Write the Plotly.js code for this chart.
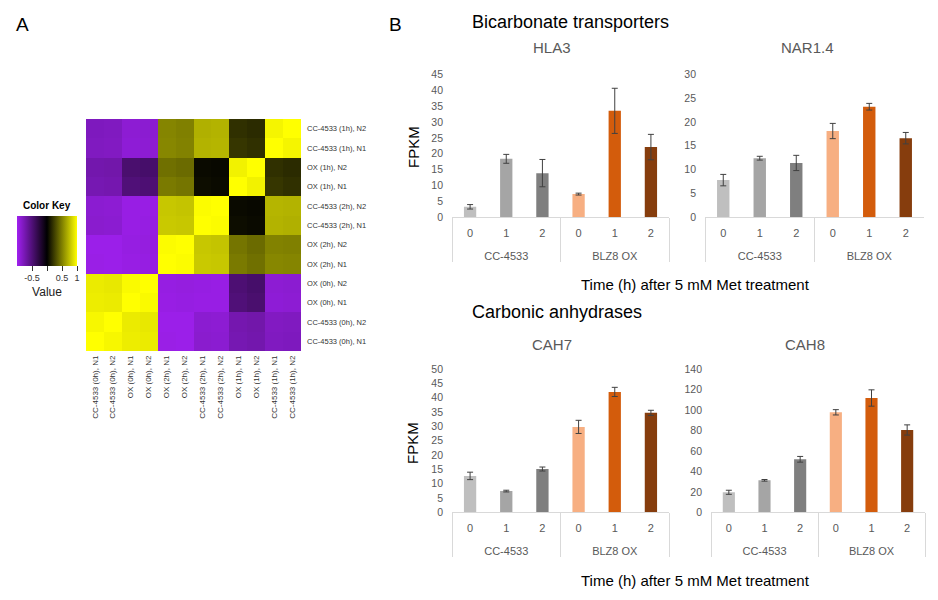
<!DOCTYPE html>
<html>
<head>
<meta charset="utf-8">
<script src="https://cdn.plot.ly/plotly-3.0.1.min.js"></script>
<style>html,body{margin:0;padding:0;background:#fff;}#chart{width:938px;height:600px;}</style>
</head>
<body>
<div id="chart"></div>
<script>
// ---------- Data ----------
const sampleLabels = ['CC-4533 (0h), N1','CC-4533 (0h), N2','OX (0h), N1','OX (0h), N2','OX (2h), N1','OX (2h), N2','CC-4533 (2h), N1','CC-4533 (2h), N2','OX (1h), N1','OX (1h), N2','CC-4533 (1h), N1','CC-4533 (1h), N2'];
const corrRow0  = [ 1.00, 0.97, 0.93, 0.92,-0.96,-0.97,-0.86,-0.87,-0.74,-0.72,-0.80,-0.79];
const corrRow1  = [ 0.97, 1.00, 0.92, 0.91,-0.97,-0.97,-0.87,-0.88,-0.73,-0.71,-0.81,-0.80];
const corrRow2  = [ 0.93, 0.92, 1.00, 0.98,-0.95,-0.94,-0.95,-0.95,-0.50,-0.46,-0.89,-0.88];
const corrRow3  = [ 0.92, 0.91, 0.98, 1.00,-0.94,-0.93,-0.94,-0.95,-0.48,-0.44,-0.88,-0.87];
const corrRow4  = [-0.96,-0.97,-0.95,-0.94, 1.00, 0.99, 0.79, 0.78, 0.48, 0.44, 0.53, 0.52];
const corrRow5  = [-0.97,-0.97,-0.94,-0.93, 0.99, 1.00, 0.78, 0.77, 0.46, 0.42, 0.51, 0.50];
const corrRow6  = [-0.86,-0.87,-0.95,-0.94, 0.79, 0.78, 1.00, 0.99, 0.05, 0.04, 0.70, 0.69];
const corrRow7  = [-0.87,-0.88,-0.95,-0.95, 0.78, 0.77, 0.99, 1.00, 0.04, 0.03, 0.71, 0.70];
const corrRow8  = [-0.74,-0.73,-0.50,-0.48, 0.48, 0.46, 0.05, 0.04, 1.00, 0.95, 0.21, 0.19];
const corrRow9  = [-0.72,-0.71,-0.46,-0.44, 0.44, 0.42, 0.04, 0.03, 0.95, 1.00, 0.19, 0.17];
const corrRow10 = [-0.80,-0.81,-0.89,-0.88, 0.53, 0.51, 0.70, 0.71, 0.21, 0.19, 1.00, 0.96];
const corrRow11 = [-0.79,-0.80,-0.88,-0.87, 0.52, 0.50, 0.69, 0.70, 0.19, 0.17, 0.96, 1.00];
const keyTickVals = [-0.5, 0, 0.5, 1];
const keyTickText = ['-0.5', '', '0.5', '1'];

const groups = ['CC-4533','CC-4533','CC-4533','BLZ8 OX','BLZ8 OX','BLZ8 OX'];
const times  = ['0','1','2','0','1','2'];
const hla3     = [3.3, 18.4, 13.9, 7.3, 33.5, 22.1];
const hla3Err  = [0.7, 1.4, 4.3, 0.3, 7.1, 4.0];
const nar14    = [7.8, 12.4, 11.4, 18.1, 23.2, 16.6];
const nar14Err = [1.2, 0.4, 1.6, 1.6, 0.7, 1.2];
const cah7     = [12.7, 7.4, 15.1, 29.8, 42.0, 34.7];
const cah7Err  = [1.3, 0.3, 0.7, 2.3, 1.6, 0.9];
const cah8     = [19.6, 31.3, 51.9, 97.9, 111.9, 80.6];
const cah8Err  = [2.0, 0.8, 2.8, 2.6, 8.0, 5.0];
const barColors = ['#BFBFBF','#A5A5A5','#7F7F7F','#F7AF82','#D35C0C','#863D0D'];

// ---------- Helpers ----------
const W = 938, H = 600;
const px = x => x / W;
const py = y => 1 - y / H;
const GRAY = '#595959';
const FONT = 'Liberation Sans, Arial, sans-serif';

const corr = [corrRow0,corrRow1,corrRow2,corrRow3,corrRow4,corrRow5,corrRow6,corrRow7,corrRow8,corrRow9,corrRow10,corrRow11];
// group labels drawn one line lower (spacing like the Excel two-level axis)
const groupAxisLabels = groups.map(g => '<br>' + g);

const traces = [];
traces.push({
  type: 'heatmap', x: sampleLabels, y: sampleLabels, z: corr,
  xaxis: 'x', yaxis: 'y', zmin: -1, zmax: 1,
  colorscale: [[0,'#A020F0'],[0.5,'#000000'],[1,'#FFFF00']],
  showscale: true, hoverinfo: 'skip',
  colorbar: {
    orientation: 'h', x: px(17), xanchor: 'left', y: py(216), yanchor: 'top',
    len: 60, lenmode: 'pixels', thickness: 50, thicknessmode: 'pixels',
    xpad: 0, ypad: 0, outlinewidth: 0,
    tickvals: keyTickVals, ticktext: keyTickText,
    ticks: 'outside', ticklen: 5, tickcolor: '#333', tickwidth: 1,
    tickfont: {family: FONT, size: 9, color: '#333'},
    title: {text: 'Value', side: 'bottom', font: {family: FONT, size: 12, color: '#222'}}
  }
});

function barTrace(vals, errs, ax) {
  return {
    type: 'bar', x: [groupAxisLabels, times], y: vals,
    xaxis: 'x' + ax, yaxis: 'y' + ax,
    marker: {color: barColors, line: {width: 0}},
    error_y: {type: 'data', array: errs, visible: true, color: '#404040', thickness: 1, width: 3},
    hoverinfo: 'skip', showlegend: false
  };
}
traces.push(barTrace(hla3, hla3Err, 2));
traces.push(barTrace(nar14, nar14Err, 3));
traces.push(barTrace(cah7, cah7Err, 4));
traces.push(barTrace(cah8, cah8Err, 5));

function xCat(d0, d1, anchor) {
  return {
    domain: [px(d0), px(d1)], anchor: anchor, type: 'multicategory',
    showline: true, linecolor: '#D9D9D9', linewidth: 1,
    showdividers: true, dividercolor: '#D9D9D9', dividerwidth: 1,
    ticks: '', showgrid: false, zeroline: false, fixedrange: true,
    ticklabelstandoff: 5,
    tickfont: {family: FONT, size: 11, color: GRAY}
  };
}
function yVal(top, bottom, range, dtick, anchor) {
  return {
    domain: [py(bottom), py(top)], anchor: anchor, range: range, dtick: dtick,
    showline: false, showgrid: false, zeroline: false, ticks: '',
    ticklabelstandoff: 8, fixedrange: true,
    tickfont: {family: FONT, size: 10.5, color: GRAY}
  };
}
function label(text, x, y, size, color, extra) {
  return Object.assign({
    text: text, x: px(x), y: py(y), xref: 'paper', yref: 'paper',
    xanchor: 'center', yanchor: 'middle', showarrow: false,
    font: {family: FONT, size: size, color: color}
  }, extra || {});
}

const layout = {
  width: W, height: H, margin: {l: 0, r: 0, t: 0, b: 0},
  paper_bgcolor: '#fff', plot_bgcolor: 'rgba(0,0,0,0)',
  showlegend: false, bargap: 0.66,
  font: {family: FONT},
  xaxis: {
    domain: [px(86), px(301)], anchor: 'y', type: 'category',
    tickangle: -90, ticks: '', showgrid: false, zeroline: false, showline: false,
    ticklabelstandoff: 2,
    tickfont: {family: FONT, size: 8, color: '#333'}, automargin: false
  },
  yaxis: {
    domain: [py(351), py(119)], anchor: 'x', type: 'category', side: 'right',
    ticks: '', showgrid: false, zeroline: false, showline: false,
    ticklabelstandoff: 5,
    tickfont: {family: FONT, size: 7.5, color: '#333'}, automargin: false
  },
  xaxis2: xCat(452, 669, 'y2'),
  yaxis2: yVal(74.3, 217.3, [0, 45], 5, 'x2'),
  xaxis3: xCat(705, 924, 'y3'),
  yaxis3: yVal(74.3, 217.3, [0, 30], 5, 'x3'),
  xaxis4: xCat(452, 669, 'y4'),
  yaxis4: yVal(369, 512.3, [0, 50], 5, 'x4'),
  xaxis5: xCat(711, 925, 'y5'),
  yaxis5: yVal(369.3, 512.3, [0, 140], 20, 'x5'),
  annotations: [
    label('A', 22, 25, 19, '#000'),
    label('B', 395, 25, 19, '#000'),
    label('<b>Color Key</b>', 47, 206, 10, '#000'),
    label('Bicarbonate transporters', 470, 22, 18, '#000', {xanchor: 'left'}),
    label('Carbonic anhydrases', 470, 312, 18, '#000', {xanchor: 'left'}),
    label('HLA3', 552, 47, 15, GRAY),
    label('NAR1.4', 807, 47, 15, GRAY),
    label('CAH7', 552, 344, 15, GRAY),
    label('CAH8', 805, 344, 15, GRAY),
    label('FPKM', 413, 147, 15, '#000', {textangle: -90}),
    label('FPKM', 412, 443, 15, '#000', {textangle: -90}),
    label('Time (h) after 5 mM Met treatment', 695, 284, 15, '#000'),
    label('Time (h) after 5 mM Met treatment', 695, 580, 15, '#000')
  ]
};

Plotly.newPlot('chart', traces, layout, {staticPlot: true, displayModeBar: false});
</script>
</body>
</html>
